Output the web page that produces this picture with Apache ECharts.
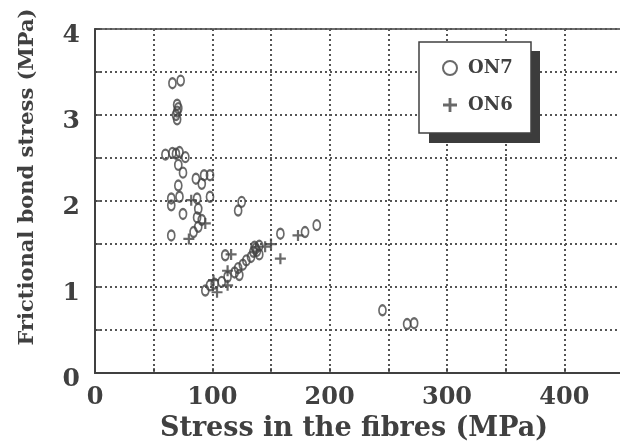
<!DOCTYPE html>
<html>
<head>
<meta charset="utf-8">
<script src="https://cdn.jsdelivr.net/npm/echarts@6/dist/echarts.min.js"></script>
<style>
html, body { margin: 0; padding: 0; background: #fff; overflow: hidden; }
#chart { width: 626px; height: 447px; }
</style>
</head>
<body>
<div id="chart"></div>
<script>
// ON7 points: [stress in fibres (MPa), frictional bond stress (MPa)]
var on7 = [
    [66, 3.37], [73, 3.40],
    [70, 3.12], [71, 3.08], [70, 3.04], [69, 3.00], [70, 2.95],
    [60, 2.54], [66, 2.56], [69, 2.55], [72, 2.57], [77, 2.51], [71, 2.42], [75, 2.33],
    [86, 2.26], [91, 2.20], [93, 2.30], [98, 2.30], [71, 2.18],
    [65, 2.03], [65, 1.95], [72, 2.05], [87, 2.03], [88, 1.91], [98, 2.05],
    [75, 1.85], [87, 1.81], [91, 1.78], [88, 1.70], [84, 1.64], [65, 1.60],
    [122, 1.89], [125, 1.99],
    [158, 1.62], [179, 1.64], [189, 1.72],
    [111, 1.37],
    [140, 1.48], [137, 1.45], [136, 1.47], [138, 1.42], [135, 1.41], [140, 1.38], [133, 1.35],
    [129, 1.31], [126, 1.26], [122, 1.22], [119, 1.17], [123, 1.14], [113, 1.12],
    [108, 1.06], [102, 1.04], [98, 1.02], [94, 0.96],
    [245, 0.73], [266, 0.57], [272, 0.58]
];
// ON6 points
var on6 = [
    [82, 2.01], [94, 1.74], [80, 1.56], [116, 1.38], [150, 1.50], [145, 1.47],
    [158, 1.33], [173, 1.60], [113, 1.19], [113, 1.02], [101, 1.08], [104, 0.94]
];
var seriesNames = ['ON7', 'ON6'];

var ink = '#404040';
var font = 'DejaVu Serif';
var plus = 'path://M4,0 L6,0 L6,4 L10,4 L10,6 L6,6 L6,10 L4,10 L4,6 L0,6 L0,4 L4,4 Z';

var chart = echarts.init(document.getElementById('chart'));

chart.setOption({
    backgroundColor: '#fff',
    animation: false,
    grid: {
        left: 95,
        top: 29,
        bottom: 71,
        right: 0,
        show: true,
        borderColor: ink,
        borderWidth: 1.5
    },
    // legend frame with its hard drop shadow
    graphic: [
        {
            type: 'rect',
            z: 50,
            shape: { x: 429, y: 51, width: 111, height: 92 },
            style: { fill: '#3c3c3c' }
        },
        {
            type: 'rect',
            z: 51,
            shape: { x: 419, y: 42, width: 112, height: 91 },
            style: { fill: '#fff', stroke: ink, lineWidth: 1.5 }
        }
    ],
    legend: {
        orient: 'vertical',
        left: 419,
        top: 42,
        z: 60,
        padding: [15, 10, 17, 23],
        itemGap: 15,
        itemWidth: 14,
        itemHeight: 14,
        textStyle: {
            fontFamily: font,
            fontWeight: 'bold',
            fontSize: 18,
            lineHeight: 22,
            color: ink,
            padding: [0, 0, 0, 6]
        },
        data: seriesNames
    },
    xAxis: {
        type: 'value',
        min: 0,
        max: 450,
        interval: 50,
        name: 'Stress in the fibres (MPa)',
        nameLocation: 'middle',
        nameGap: 40,
        nameTextStyle: {
            fontFamily: font,
            fontWeight: 'bold',
            fontSize: 27,
            color: ink,
            padding: [0, 10, 0, 0]
        },
        axisLine: { lineStyle: { color: ink, width: 2 } },
        axisTick: {
            inside: true,
            length: 5,
            lineStyle: { color: ink, width: 1.5 }
        },
        axisLabel: {
            margin: 13,
            fontFamily: font,
            fontWeight: 'bold',
            fontSize: 24,
            color: ink,
            formatter: function (v) { return v % 100 === 0 ? String(v) : ''; }
        },
        splitLine: {
            show: true,
            lineStyle: { color: '#555', width: 2, type: [2, 3] }
        }
    },
    yAxis: {
        type: 'value',
        min: 0,
        max: 4,
        interval: 0.5,
        name: 'Frictional bond stress (MPa)',
        nameLocation: 'middle',
        nameGap: 57,
        nameTextStyle: {
            fontFamily: font,
            fontWeight: 'bold',
            fontSize: 21,
            color: ink,
            padding: [0, 0, 0, 48]
        },
        axisLine: { lineStyle: { color: ink, width: 2 } },
        axisTick: {
            inside: true,
            length: 5,
            lineStyle: { color: ink, width: 1.5 }
        },
        axisLabel: {
            margin: 15,
            fontFamily: font,
            fontWeight: 'bold',
            fontSize: 25,
            color: ink,
            verticalAlign: 'top',
            lineHeight: 12,
            formatter: function (v) { return v % 1 === 0 ? String(v) : ''; }
        },
        splitLine: {
            show: true,
            lineStyle: { color: '#555', width: 2, type: [2, 3] }
        }
    },
    series: [
        {
            name: seriesNames[0],
            type: 'scatter',
            data: on7,
            symbol: 'circle',
            symbolSize: [7, 10],
            itemStyle: {
                color: 'rgba(255,255,255,0)',
                borderColor: '#444',
                borderWidth: 2
            }
        },
        {
            name: seriesNames[1],
            type: 'scatter',
            data: on6,
            symbol: plus,
            symbolSize: 11,
            itemStyle: { color: '#444' }
        }
    ]
});
</script>
</body>
</html>
